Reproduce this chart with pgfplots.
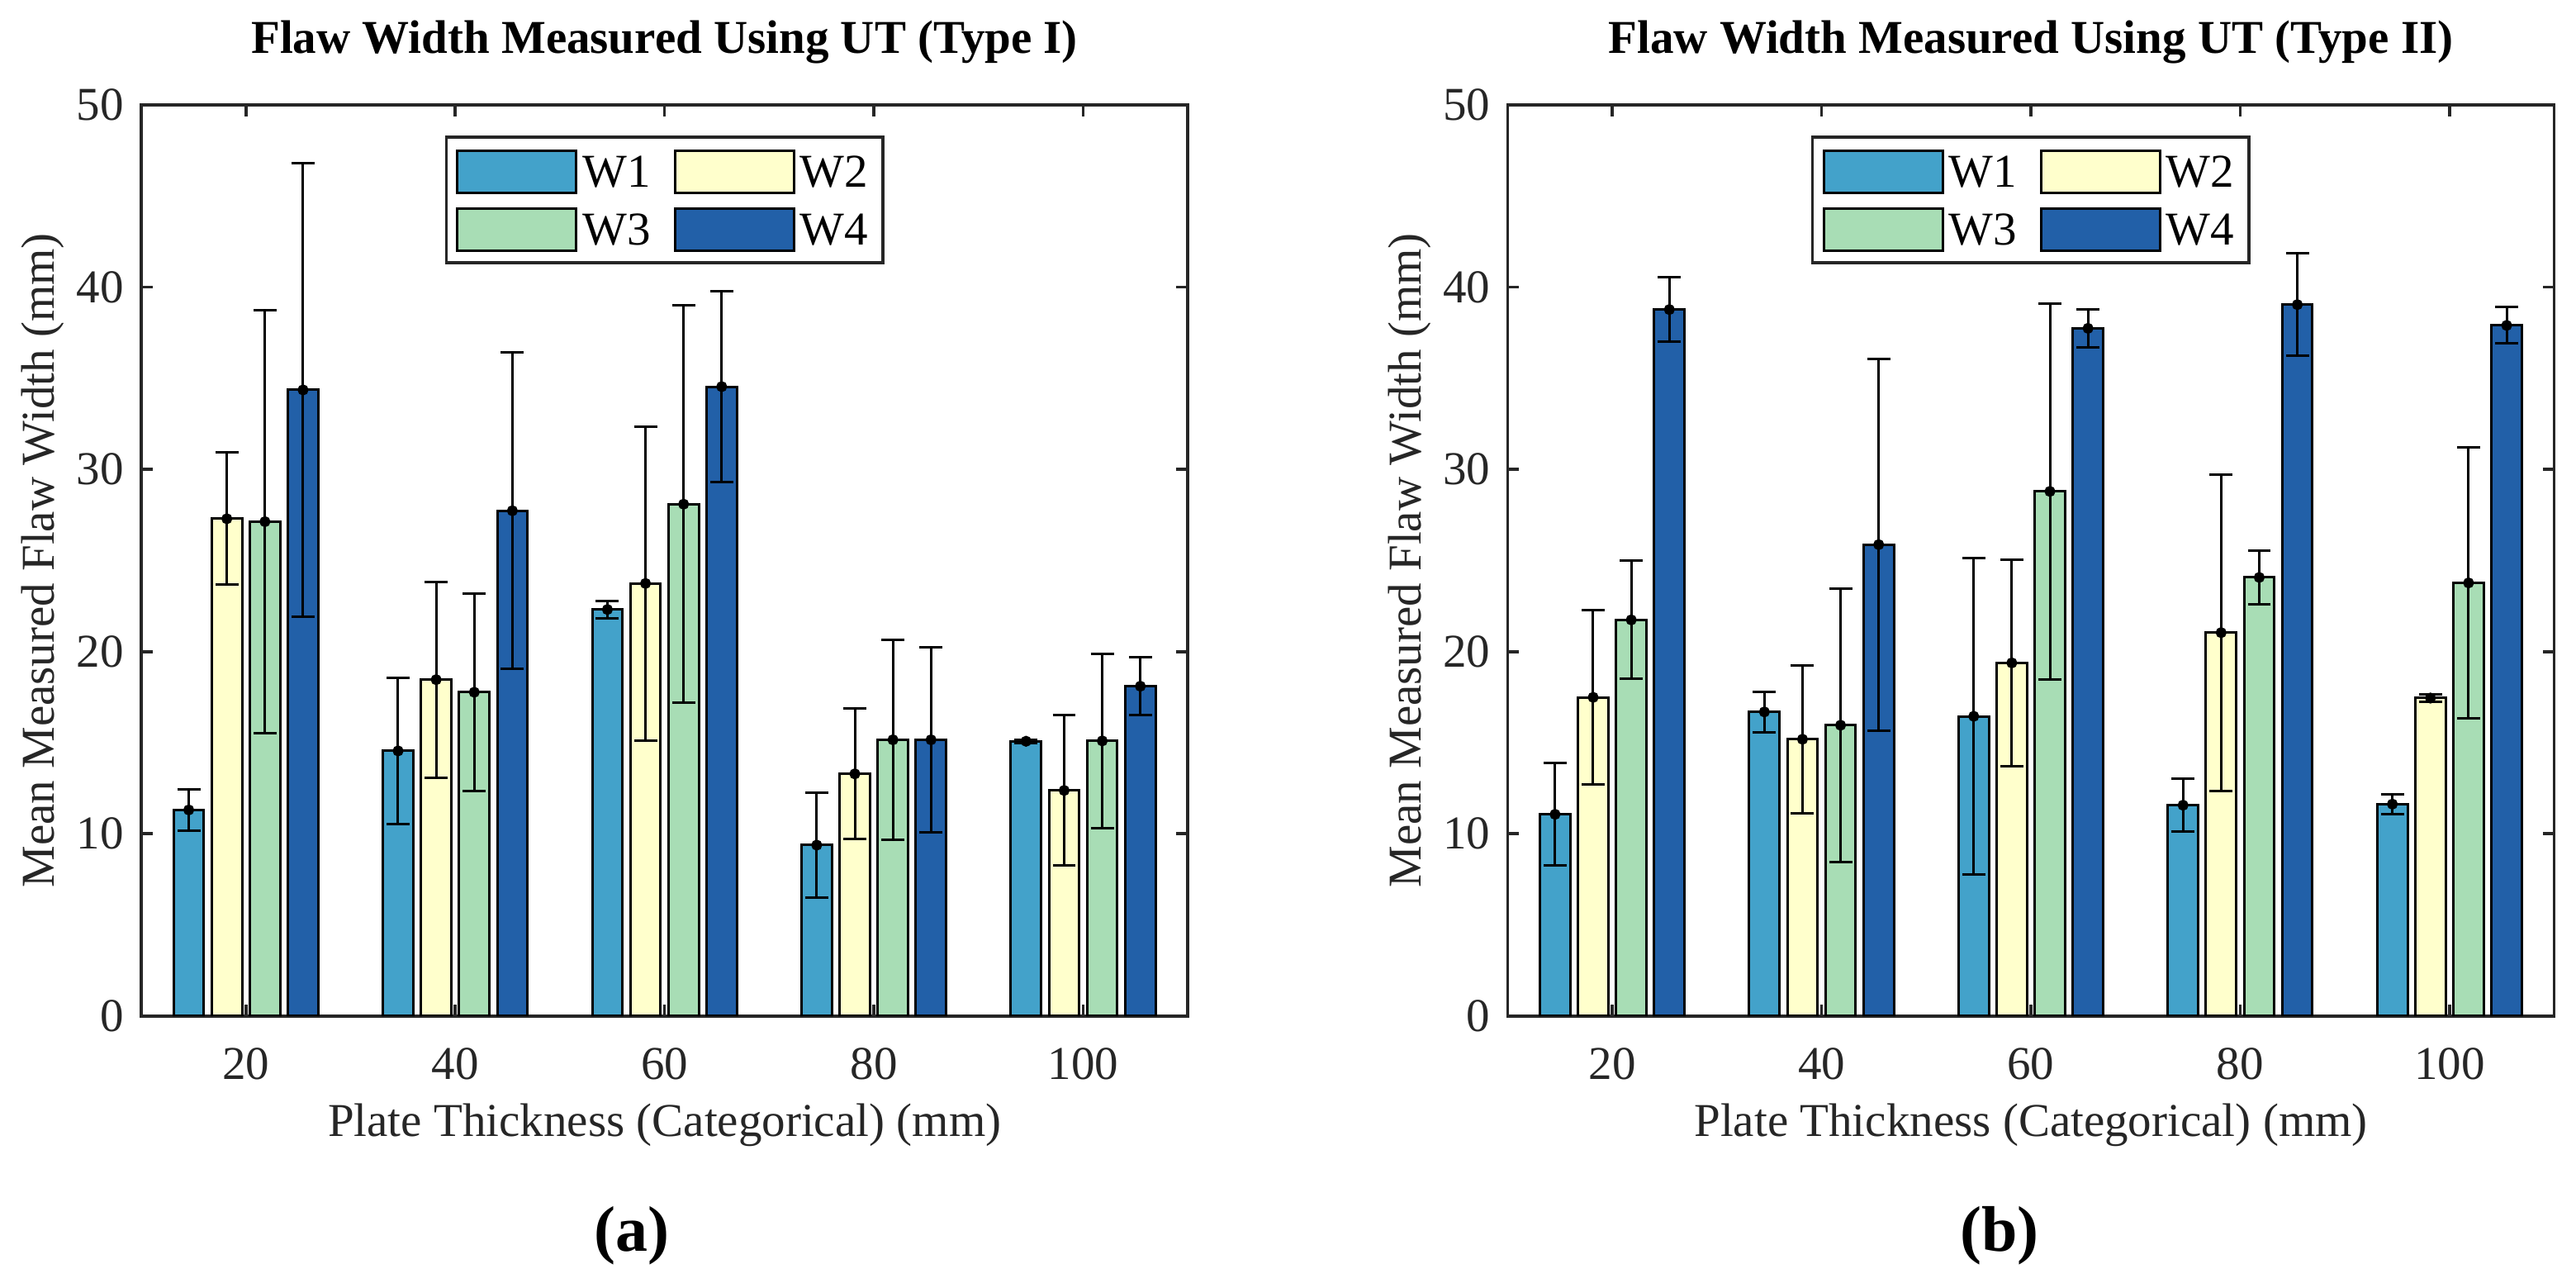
\documentclass[border=0pt]{standalone}
\usepackage{fontspec}
\setmainfont{Liberation Serif}
\usepackage{pgfplots}
\pgfplotsset{compat=1.18}
\usepackage{pgfplotstable}

\definecolor{cW1}{HTML}{43A2CA}
\definecolor{cW2}{HTML}{FFFFCC}
\definecolor{cW3}{HTML}{A8DDB5}
\definecolor{cW4}{HTML}{2260A8}
\definecolor{axgray}{HTML}{262626}

% g = category index (0..4 -> 20..100 mm); W = mean, E = error (symmetric)
\pgfplotstableread{
g  W1    E1    W2    E2    W3    E3    W4    E4
0  11.31 1.14  27.29 3.63  27.13 11.59 34.36 12.45
1  14.55 4.00  18.46 5.37  17.77 5.42  27.73 8.69
2  22.31 0.48  23.74 8.61  28.09 10.90 34.54 5.25
3  9.38  2.90  13.29 3.58  15.16 5.50  15.16 5.06
4  15.08 0.10  12.38 4.12  15.10 4.79  18.10 1.58
}\typeI

\pgfplotstableread{
g  W1    E1    W2    E2    W3    E3    W4    E4
0  11.07 2.81  17.49 4.80  21.74 3.24  38.77 1.76
1  16.69 1.11  15.19 4.05  15.96 7.50  25.87 10.20
2  16.45 8.68  19.38 5.65  28.79 10.30 37.74 1.05
3  11.57 1.45  21.04 8.67  24.07 1.48  39.04 2.80
4  11.63 0.55  17.45 0.22  23.77 7.45  37.90 1.00
}\typeII

\pgfplotsset{
  flawaxis/.style={
    width=211.2pt, height=183.8pt, scale only axis,
    anchor=south west,
    xmin=-0.5, xmax=4.5, ymin=0, ymax=50,
    xtick={0,1,2,3,4}, xticklabels={20,40,60,80,100},
    ytick={0,10,20,30,40,50},
    tick align=inside, major tick length=2.3pt,
    axis line style={axgray, line width=0.6pt},
    every tick/.style={axgray, line width=0.6pt},
    tick label style={font=\fontsize{9.5}{11}\selectfont, text=axgray},
    /pgf/number format/assume math mode=true,
    xticklabel style={yshift=-3pt},
    label style={font=\fontsize{9.5}{11}\selectfont, text=axgray},
    xlabel={Plate Thickness (Categorical) (mm)},
    ylabel={Mean Measured Flaw Width (mm)},
    xlabel style={at={([yshift=-24.3pt]axis description cs:0.5,0)}, anchor=base},
    ylabel style={at={([xshift=-19.8pt]axis description cs:0,0.5)}, anchor=center},
    title style={font=\bfseries\fontsize{9.5}{11}\selectfont, at={([yshift=6.7pt]axis description cs:0.5,1)}, anchor=center},
    legend columns=2,
    legend style={at={([yshift=-6.17pt]axis description cs:0.5,1)}, anchor=north,
      draw=axgray, line width=0.6pt, inner xsep=2pt, inner ysep=1pt,
      font=\fontsize{9.5}{11}\selectfont,
      nodes={inner xsep=1pt, inner ysep=2.6pt, text height=6.5pt, text depth=0pt},
      /tikz/every even column/.append style={column sep=3.67pt}},
    legend image code/.code={\draw[##1, line width=0.5pt, draw=black] (0pt,-4.35pt) rectangle (24pt,4.15pt);},
  },
  barW/.style={ybar, bar shift=0pt, bar width=0.145, draw=black, line width=0.5pt, fill=#1,
    mark=*, mark size=0.85pt, mark options={fill=black, draw=black},
    error bars/.cd, y dir=both, y explicit,
    error mark options={black, line width=0.5pt, mark size=2.33pt, rotate=90},
    error bar style={black, line width=0.5pt}},
}

\begin{document}
\begin{tikzpicture}
\useasboundingbox (0,0) rectangle (519.8pt,258.8pt);

\begin{axis}[flawaxis, at={(28.5pt,53.83pt)}, title={Flaw Width Measured Using UT (Type I)}]
\addplot[barW=cW1] table[x expr=\thisrow{g}-0.273, y=W1, y error=E1] {\typeI};
\addplot[barW=cW2] table[x expr=\thisrow{g}-0.091, y=W2, y error=E2] {\typeI};
\addplot[barW=cW3] table[x expr=\thisrow{g}+0.091, y=W3, y error=E3] {\typeI};
\addplot[barW=cW4] table[x expr=\thisrow{g}+0.273, y=W4, y error=E4] {\typeI};
\legend{W1,W2,W3,W4}
\end{axis}

\begin{axis}[flawaxis, at={(304.2pt,53.83pt)}, title={Flaw Width Measured Using UT (Type II)}]
\addplot[barW=cW1] table[x expr=\thisrow{g}-0.273, y=W1, y error=E1] {\typeII};
\addplot[barW=cW2] table[x expr=\thisrow{g}-0.091, y=W2, y error=E2] {\typeII};
\addplot[barW=cW3] table[x expr=\thisrow{g}+0.091, y=W3, y error=E3] {\typeII};
\addplot[barW=cW4] table[x expr=\thisrow{g}+0.273, y=W4, y error=E4] {\typeII};
\legend{W1,W2,W3,W4}
\end{axis}

\node[font=\bfseries\fontsize{13}{15}\selectfont, inner sep=0pt] at (127.5pt,9.5pt) {(a)};
\node[font=\bfseries\fontsize{13}{15}\selectfont, inner sep=0pt] at (403.5pt,9.5pt) {(b)};
\end{tikzpicture}
\end{document}
